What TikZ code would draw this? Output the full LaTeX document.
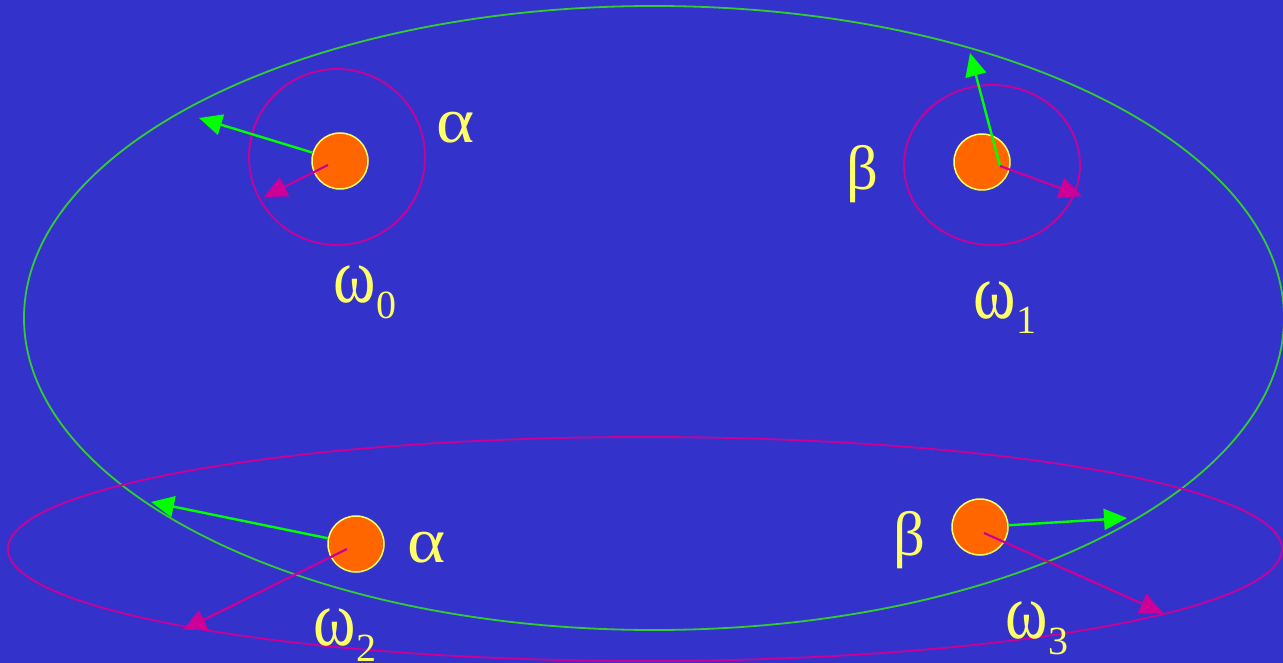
\documentclass[tikz,border=0pt]{standalone}
\usepackage{fontspec}
\usepackage{graphicx}
\setmainfont{Liberation Serif}
\usetikzlibrary{arrows.meta}
\definecolor{bg}{HTML}{3333CC}
\definecolor{ellg}{HTML}{33CC33}
\definecolor{arrg}{HTML}{00FF00}
\definecolor{mag}{HTML}{CC0099}
\definecolor{dotor}{HTML}{FF6600}
\definecolor{yel}{HTML}{FFFF66}
\newcommand{\galpha}{\scalebox{1.3}[1.15]{α}}
\newcommand{\gbeta}{\scalebox{1.12}{β}}
\newcommand{\wsub}[1]{\scalebox{1.15}[1.4]{ω}\hspace{0.5pt}\raisebox{-16pt}{\fontsize{40}{40}\selectfont #1}}
\tikzset{
  dotnode/.style={circle,fill=dotor,draw=yel,line width=1.5pt,minimum size=56pt,inner sep=0pt},
  lbl/.style={text=yel,font=\fontsize{56}{56}\selectfont,inner sep=0pt},
  garrow/.style={draw=arrg,line width=2.4pt,-{Triangle[length=23pt,width=21pt]}},
  marrow/.style={draw=mag,line width=2.2pt,-{Triangle[length=23pt,width=21pt]}},
  gring/.style={draw=ellg,line width=1.8pt},
  mring/.style={draw=mag,line width=1.8pt}
}
\begin{document}
\begin{tikzpicture}[x=1pt,y=-1pt]
\fill[bg] (0,0) rectangle (1283,663);
\useasboundingbox (0,0) rectangle (1283,663);
% large ellipses
\draw[gring] (654,318) ellipse [x radius=630pt, y radius=312pt];
\draw[mring] (645,549) ellipse [x radius=637pt, y radius=112pt];
% small rings
\draw[mring] (337,157) ellipse [x radius=88pt, y radius=88pt];
\draw[mring] (992,165) ellipse [x radius=88pt, y radius=80pt];
% coordinates
\coordinate (g0) at (199,118);
\coordinate (m0s) at (328,165);
\coordinate (m0) at (264,197);
\coordinate (g1s) at (1000,166);
\coordinate (g1) at (970,53);
\coordinate (m1) at (1082,196);
\coordinate (g2) at (151,502);
\coordinate (m2s) at (347,549);
\coordinate (m2) at (183,630);
\coordinate (g3) at (1127,518);
\coordinate (m3s) at (984,533);
\coordinate (m3) at (1163,613);
% dots
\node[dotnode] (d0) at (340,161) {};
\node[dotnode] (d1) at (982,162) {};
\node[dotnode] (d2) at (356,544) {};
\node[dotnode] (d3) at (980,527) {};
% arrows
\draw[garrow] (d0) -- (g0);
\draw[marrow] (m0s) -- (m0);
\draw[garrow] (g1s) -- (g1);
\draw[marrow] (g1s) -- (m1);
\draw[garrow] (d2) -- (g2);
\draw[marrow] (m2s) -- (m2);
\draw[garrow] (d3) -- (g3);
\draw[marrow] (m3s) -- (m3);
% labels
\node[lbl,anchor=base] (la0) at (456,143) {\galpha};
\node[lbl,anchor=base] (lb1) at (862,190) {\gbeta};
\node[lbl,anchor=base west] (lw0) at (333,302) {\wsub{0}};
\node[lbl,anchor=base west] (lw1) at (973,318) {\wsub{1}};
\node[lbl,anchor=base] (la2) at (427,562) {\galpha};
\node[lbl,anchor=base] (lb3) at (909,555) {\gbeta};
\node[lbl,anchor=base west] (lw2) at (313,645) {\wsub{2}};
\node[lbl,anchor=base west] (lw3) at (1005,638) {\wsub{3}};
\end{tikzpicture}
\end{document}
